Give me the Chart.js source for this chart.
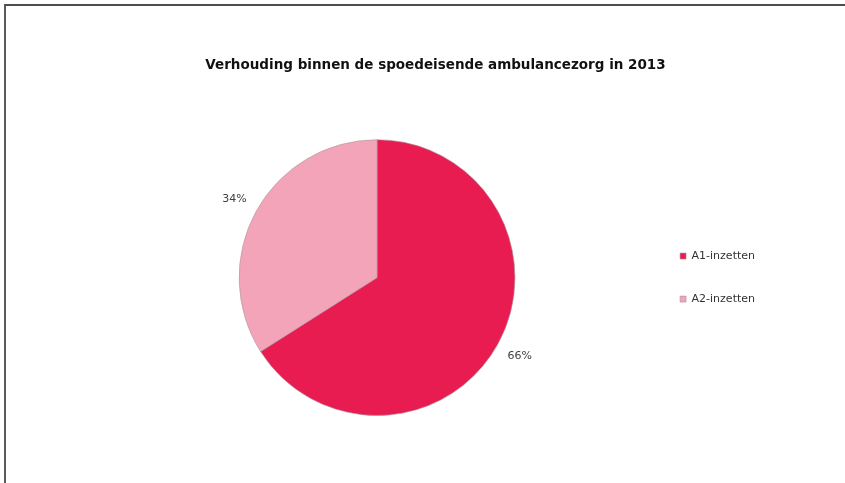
<!DOCTYPE html>
<html>
<head>
<meta charset="utf-8">
<script src="https://cdn.jsdelivr.net/npm/chart.js@4.4.1/dist/chart.umd.min.js"></script>
<style>
  html, body { margin: 0; padding: 0; background: #fff; }
  #wrap { position: relative; width: 845px; height: 483px; overflow: hidden; }
  #frame { position: absolute; left: 4px; top: 4px; width: 900px; height: 600px;
           border-top: 2px solid #4d4d4d; border-left: 2px solid #5a5a5a; }
  canvas { position: absolute; left: 0; top: 0; }
</style>
</head>
<body>
<div id="wrap">
  <div id="frame"></div>
  <canvas id="pie" width="845" height="483"></canvas>
</div>
<script>
var labels = ['A1-inzetten', 'A2-inzetten'];
var shares = [66, 34];
var colors = ['#e81c51', '#f4a4b8'];

// percentage labels just outside each slice
var sliceLabels = {
    id: 'sliceLabels',
    afterDatasetsDraw: function(chart) {
        var ctx = chart.ctx;
        var arcs = chart.getDatasetMeta(0).data;
        ctx.save();
        ctx.font = '11px "DejaVu Sans", Verdana, sans-serif';
        ctx.fillStyle = '#404040';
        ctx.textAlign = 'center';
        ctx.textBaseline = 'middle';
        arcs.forEach(function(arc, i) {
            var mid = (arc.startAngle + arc.endAngle) / 2;
            var r = arc.outerRadius * 1.18;
            ctx.fillText(shares[i] + '%', arc.x + Math.cos(mid) * r, arc.y + Math.sin(mid) * r);
        });
        ctx.restore();
    }
};

var ctx = document.getElementById('pie').getContext('2d');
var myChart = new Chart(ctx, {
    type: 'pie',
    data: {
        labels: labels,
        datasets: [{
            data: shares,
            backgroundColor: colors,
            borderColor: 'rgba(170,150,155,0.6)',
            borderWidth: 1
        }]
    },
    options: {
        responsive: false,
        animation: false,
        layout: {
            padding: { left: 106, right: 80, top: 41, bottom: 67 }
        },
        plugins: {
            title: {
                display: true,
                text: 'Verhouding binnen de spoedeisende ambulancezorg in 2013',
                color: '#111',
                font: { family: '"DejaVu Sans", Verdana, sans-serif', size: 13.5, weight: 'bold' },
                padding: { top: 16, bottom: 66 }
            },
            legend: {
                position: 'right',
                fullSize: false,
                labels: {
                    boxWidth: 6,
                    boxHeight: 6,
                    padding: 32,
                    color: '#333',
                    font: { family: '"DejaVu Sans", Verdana, sans-serif', size: 11 }
                }
            },
            tooltip: { enabled: false }
        }
    },
    plugins: [sliceLabels]
});
</script>
</body>
</html>
